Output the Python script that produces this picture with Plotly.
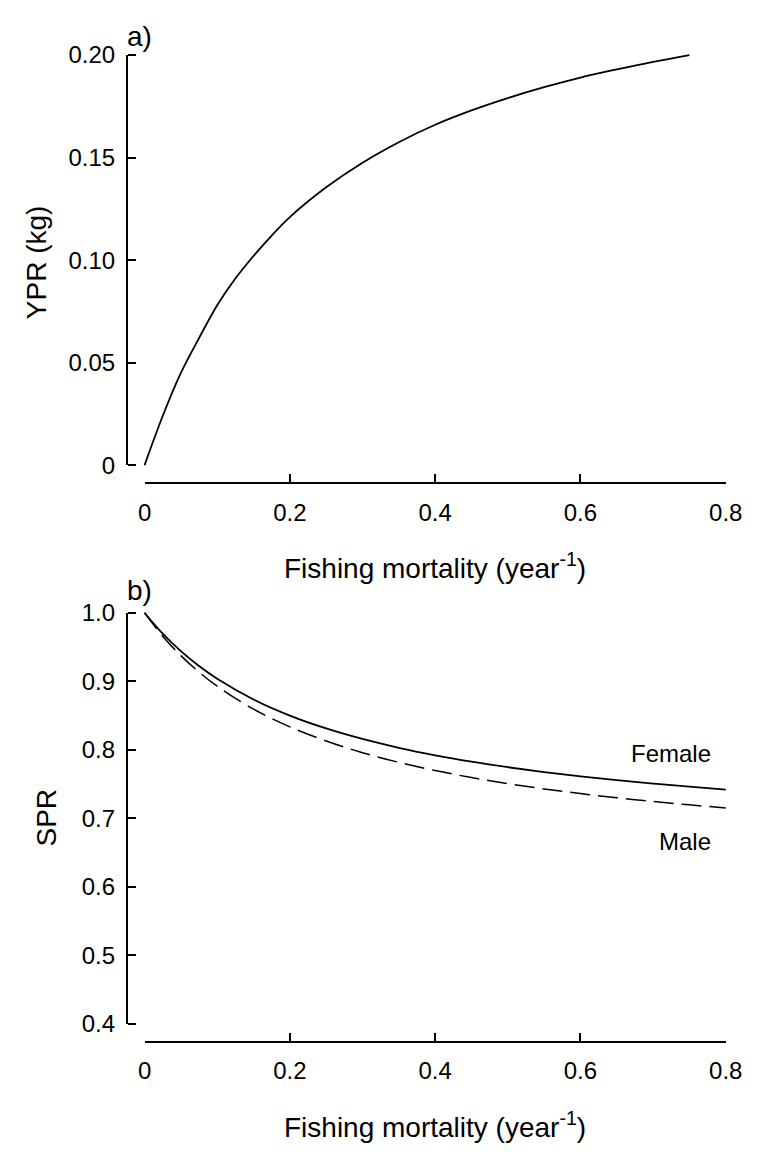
import plotly.graph_objects as go

# ---- data ----
F_ypr = [0, 0.025, 0.05, 0.075, 0.1, 0.125, 0.15, 0.175, 0.2, 0.25, 0.3, 0.35,
         0.4, 0.45, 0.5, 0.55, 0.6, 0.65, 0.7, 0.75]
ypr = [0, 0.024, 0.045, 0.062, 0.078, 0.091, 0.102, 0.112, 0.121, 0.1355, 0.1475,
       0.1575, 0.166, 0.173, 0.179, 0.1843, 0.189, 0.193, 0.1967, 0.200]

F_spr = [0, 0.025, 0.05, 0.075, 0.1, 0.15, 0.2, 0.25, 0.3, 0.35, 0.4, 0.45, 0.5,
         0.55, 0.6, 0.65, 0.7, 0.75, 0.8]
spr_female = [1.000, 0.9694, 0.9439, 0.9222, 0.9037, 0.8735, 0.8500, 0.8312, 0.8158,
              0.8029, 0.7920, 0.7827, 0.7746, 0.7675, 0.7612, 0.7557, 0.7507, 0.7463, 0.7420]
spr_male = [1.000, 0.9658, 0.9374, 0.9134, 0.8928, 0.8594, 0.8335, 0.8128, 0.7958,
            0.7817, 0.7698, 0.7595, 0.7507, 0.7429, 0.7361, 0.7300, 0.7246, 0.7197, 0.7150]

x_ticks = [0, 0.2, 0.4, 0.6, 0.8]
x_ticktext = ["0", "0.2", "0.4", "0.6", "0.8"]
ypr_ticks = [0, 0.05, 0.10, 0.15, 0.20]
ypr_ticktext = ["0", "0.05", "0.10", "0.15", "0.20"]
spr_ticks = [0.4, 0.5, 0.6, 0.7, 0.8, 0.9, 1.0]
spr_ticktext = ["0.4", "0.5", "0.6", "0.7", "0.8", "0.9", "1.0"]

W, H = 766, 1159
FONT = "Liberation Sans, Arial, Helvetica, sans-serif"
TICK_SIZE = 24
TITLE_SIZE = 28


def px(x):
    return x / W


def py(y):
    return 1 - y / H


fig = go.Figure()

fig.add_trace(go.Scatter(x=F_ypr, y=ypr, mode="lines", xaxis="x", yaxis="y",
                         line=dict(color="black", width=1.8, shape="spline"),
                         showlegend=False, hoverinfo="skip"))
fig.add_trace(go.Scatter(x=F_spr, y=spr_female, mode="lines", xaxis="x2", yaxis="y2",
                         line=dict(color="black", width=1.8, shape="spline"),
                         showlegend=False, hoverinfo="skip"))
fig.add_trace(go.Scatter(x=F_spr, y=spr_male, mode="lines", xaxis="x2", yaxis="y2",
                         line=dict(color="black", width=1.5, shape="spline", dash="20px,8px"),
                         showlegend=False, hoverinfo="skip"))

# invisible helper traces so every display axis belongs to a subplot
for xa, ya in [("x3", "y"), ("x", "y3"), ("x", "y5"), ("x4", "y2"), ("x2", "y4"), ("x2", "y6")]:
    fig.add_trace(go.Scatter(x=[None], y=[None], xaxis=xa, yaxis=ya, showlegend=False,
                             hoverinfo="skip", mode="lines"))

hidden = dict(showline=False, showgrid=False, zeroline=False, showticklabels=False,
              ticks="", fixedrange=True)

common = dict(showgrid=False, zeroline=False, linecolor="black", linewidth=2,
              ticklen=8, tickwidth=2, tickcolor="black",
              tickfont=dict(family=FONT, size=TICK_SIZE, color="black"), fixedrange=True)

# x display axes: line + inward ticks + labels
xdisp = dict(showline=True, ticks="inside", tickvals=x_ticks, ticktext=x_ticktext,
             ticklabelstandoff=8, **common)
# y display axes split in two: line + ticks pointing right, and labels on the left
yline = dict(showline=True, ticks="outside", side="right", showticklabels=False,
             anchor="free", position=px(124), **common)
ylab = dict(showline=False, ticks="", side="left", showticklabels=True,
            anchor="free", position=px(124), ticklabelstandoff=12, **common)

top_y = [py(462), py(42)]
bot_y = [py(1034), py(613)]

fig.update_layout(
    width=W, height=H,
    margin=dict(l=0, r=0, t=0, b=0),
    paper_bgcolor="white", plot_bgcolor="rgba(0,0,0,0)",
    font=dict(family=FONT, color="black"),
    showlegend=False,
    # data axes (invisible)
    xaxis=dict(domain=[px(124), px(760)], range=[-0.024, 0.824], anchor="y", **hidden),
    yaxis=dict(domain=[py(479), py(25)], range=[-0.0081, 0.2081], anchor="x", **hidden),
    xaxis2=dict(domain=[px(124), px(760)], range=[-0.024, 0.824], anchor="y2", **hidden),
    yaxis2=dict(domain=[py(1051), py(595)], range=[0.3758, 1.0257], anchor="x2", **hidden),
    # display axes, top panel
    xaxis3=dict(domain=[px(142), px(742)], range=[0, 0.8], anchor="y", **xdisp),
    yaxis3=dict(domain=top_y, range=[0, 0.2], tickvals=ypr_ticks, **yline),
    yaxis5=dict(domain=top_y, range=[0, 0.2], tickvals=ypr_ticks, ticktext=ypr_ticktext, **ylab),
    # display axes, bottom panel
    xaxis4=dict(domain=[px(142), px(742)], range=[0, 0.8], anchor="y2", **xdisp),
    yaxis4=dict(domain=bot_y, range=[0.4, 1.0], tickvals=spr_ticks, **yline),
    yaxis6=dict(domain=bot_y, range=[0.4, 1.0], tickvals=spr_ticks, ticktext=spr_ticktext, **ylab),
)

ann = []
def text(x, y, s, size, angle=0, xanchor="center"):
    ann.append(dict(x=px(x), y=py(y), xref="paper", yref="paper", text=s, showarrow=False,
                    font=dict(family=FONT, size=size, color="black"), textangle=angle,
                    xanchor=xanchor, yanchor="middle"))

text(442, 565, "Fishing mortality (year<sup>-1</sup>)", TITLE_SIZE)
text(442, 1137, "Fishing mortality (year<sup>-1</sup>)", TITLE_SIZE)
text(30, 254, "YPR (kg)", TITLE_SIZE, angle=-90)
text(41, 823, "SPR", TITLE_SIZE, angle=-90)
text(137, 23, "a)", TITLE_SIZE)
text(137, 590, "b)", TITLE_SIZE)
text(685, 757, "Female", TICK_SIZE)
text(700, 847, "Male", TICK_SIZE)
fig.update_layout(annotations=ann)

fig.write_html("out.html")
